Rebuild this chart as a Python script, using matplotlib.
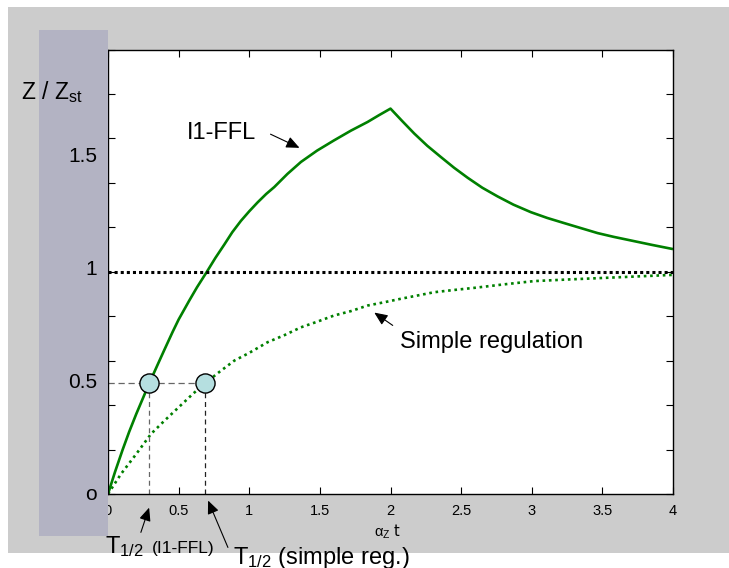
import matplotlib
matplotlib.use("Agg")
import matplotlib.pyplot as plt
from matplotlib.patches import Rectangle, FancyArrowPatch

plt.rcParams['font.family'] = ['Liberation Sans', 'DejaVu Sans']
plt.rcParams['mathtext.fontset'] = 'custom'
plt.rcParams['mathtext.rm'] = 'Liberation Sans'
plt.rcParams['mathtext.it'] = 'Liberation Sans:italic'

# Incoherent type-1 feed-forward loop response (rise, then decay after t = 2)
t_ffl = [0.0, 0.05, 0.104, 0.15, 0.2, 0.25, 0.29, 0.35, 0.4, 0.458, 0.5,
         0.575, 0.63, 0.70, 0.76, 0.823, 0.88, 0.941, 1.0, 1.059, 1.12, 1.177,
         1.27, 1.366, 1.48, 1.60, 1.72, 1.838, 1.92, 2.0,
         2.08, 2.168, 2.26, 2.357, 2.45, 2.546, 2.65, 2.758, 2.87, 2.994,
         3.11, 3.229, 3.35, 3.466, 3.58, 3.70, 3.85, 4.0]
z_ffl = [0.0, 0.10, 0.20, 0.28, 0.36, 0.435, 0.495, 0.58, 0.65, 0.73, 0.785,
         0.87, 0.93, 1.0, 1.062, 1.122, 1.178, 1.229, 1.272, 1.312, 1.35, 1.381,
         1.44, 1.494, 1.545, 1.591, 1.635, 1.674, 1.705, 1.734,
         1.68, 1.622, 1.567, 1.516, 1.468, 1.423, 1.378, 1.339, 1.302, 1.268,
         1.242, 1.219, 1.196, 1.174, 1.157, 1.141, 1.121, 1.102]

# Simple regulation response
t_simple = [0.0, 0.092, 0.2, 0.304, 0.4, 0.5, 0.6, 0.69, 0.79, 0.894, 1.0,
            1.13, 1.25, 1.366, 1.48, 1.6, 1.72, 1.838, 1.95, 2.07, 2.19, 2.31,
            2.45, 2.6, 2.8, 3.017, 3.25, 3.5, 3.75, 4.0]
z_simple = [0.0, 0.09, 0.18, 0.27, 0.33, 0.39, 0.45, 0.50, 0.55, 0.60, 0.635,
            0.683, 0.715, 0.75, 0.775, 0.803, 0.823, 0.848, 0.862, 0.878, 0.893,
            0.908, 0.918, 0.928, 0.943, 0.958, 0.965, 0.972, 0.979, 0.986]

# Half-response times
t_half_ffl = 0.29
t_half_simple = 0.69
half_level = 0.5
steady_level = 1.0

x_ticks = [0, 0.5, 1, 1.5, 2, 2.5, 3, 3.5, 4]
x_ticklabels = ['0', '0.5', '1', '1.5', '2', '2.5', '3', '3.5', '4']
y_ticks = [0, 0.2, 0.4, 0.6, 0.8, 1.0, 1.2, 1.4, 1.6, 1.8, 2.0]
y_labels = ['1.5', '1', '0.5', 'o']
y_label_values = [1.52, 1.01, 0.5, 0.0]

W, H = 729, 568
fig = plt.figure(figsize=(W / 100, H / 100), dpi=100, facecolor='white')


def fx(x):
    return x / W


def fy(y):
    return 1 - y / H


# grey canvas behind the plot
fig.patches.append(Rectangle((fx(8), fy(553)), fx(W) - fx(8), fy(7) - fy(553),
                             transform=fig.transFigure, facecolor='#cccccc',
                             edgecolor='none', zorder=-2))
# slate panel along the left edge
fig.patches.append(Rectangle((fx(39), fy(536)), fx(107.5) - fx(39), fy(30) - fy(536),
                             transform=fig.transFigure, facecolor='#b3b3c3',
                             edgecolor='none', zorder=1))

ax = fig.add_axes([fx(108), fy(494), fx(673) - fx(108), fy(49.5) - fy(494)])
ax.set_facecolor('white')
ax.set_xlim(0, 4)
ax.set_ylim(0, 2)

green = '#008000'
ax.plot(t_ffl, z_ffl, color=green, lw=1.9, solid_capstyle='butt',
        solid_joinstyle='round')
ax.plot(t_simple, z_simple, color=green, lw=1.9, linestyle=(0, (1.0, 1.4)))
ax.plot([0, 4], [steady_level, steady_level], color='black', lw=2.2,
        linestyle=(0, (1.0, 1.0)))

# half-time guides
ax.plot([0, t_half_simple], [half_level, half_level], color='#666666', lw=0.9,
        linestyle=(0, (5, 3)))
ax.plot([t_half_ffl, t_half_ffl], [0, half_level], color='#666666', lw=0.9,
        linestyle=(0, (4, 3)))
ax.plot([t_half_simple, t_half_simple], [0, half_level], color='#222222', lw=0.9,
        linestyle=(0, (4, 3)))
ax.scatter([t_half_ffl, t_half_simple], [half_level, half_level], s=190,
           facecolor='#b5dfe0', edgecolor='black', linewidth=1.0, zorder=5)

ax.set_xticks(x_ticks)
ax.set_xticklabels(x_ticklabels, fontsize=10.5)
ax.set_yticks(y_ticks)
ax.set_yticklabels([])
ax.tick_params(direction='in', length=5, width=0.8, top=True, right=True,
               pad=7, colors='black')
for s in ax.spines.values():
    s.set_linewidth(1.0)

# y-axis labels drawn over the panel
for lab, v in zip(y_labels, y_label_values):
    yp = ax.transData.transform((0, v))[1] / H
    fig.text(fx(97), yp, lab, ha='right', va='center', fontsize=15, zorder=3)
fig.text(fx(21), fy(92), r'Z / Z$_{\mathrm{st}}$', ha='left', va='center',
         fontsize=16.5, zorder=3)

# x-axis label
fig.text(fx(388), fy(532), r'$\mathrm{\alpha}_{\mathrm{Z}}$ t', ha='center',
         va='center', fontsize=10.5, family='DejaVu Sans')

# curve annotations
fig.text(fx(187), fy(133), 'I1-FFL', ha='left', va='center', fontsize=17)
fig.text(fx(400), fy(342), 'Simple regulation', ha='left', va='center',
         fontsize=17)


def arrow(x0, y0, x1, y1):
    fig.patches.append(FancyArrowPatch((fx(x0), fy(y0)), (fx(x1), fy(y1)),
                                       transform=fig.transFigure,
                                       arrowstyle='-|>,head_length=8,head_width=3.5',
                                       mutation_scale=1, color='black', lw=0.8,
                                       zorder=4))


arrow(268, 133, 302, 149)
arrow(395, 327, 372, 311)
arrow(140, 535, 150, 505)
arrow(229, 550, 207, 498)

# half-time labels below the axis
fig.text(fx(105), fy(553), r'T$_{\mathrm{1/2}}$', ha='left', va='baseline',
         fontsize=17, zorder=3)
fig.text(fx(152), fy(553), '(I1-FFL)', ha='left', va='baseline',
         fontsize=12.5, zorder=3)
fig.text(fx(233), fy(564), r'T$_{\mathrm{1/2}}$ (simple reg.)', ha='left',
         va='baseline', fontsize=17, zorder=3)

fig.savefig('out.png', dpi=100, facecolor='white')
